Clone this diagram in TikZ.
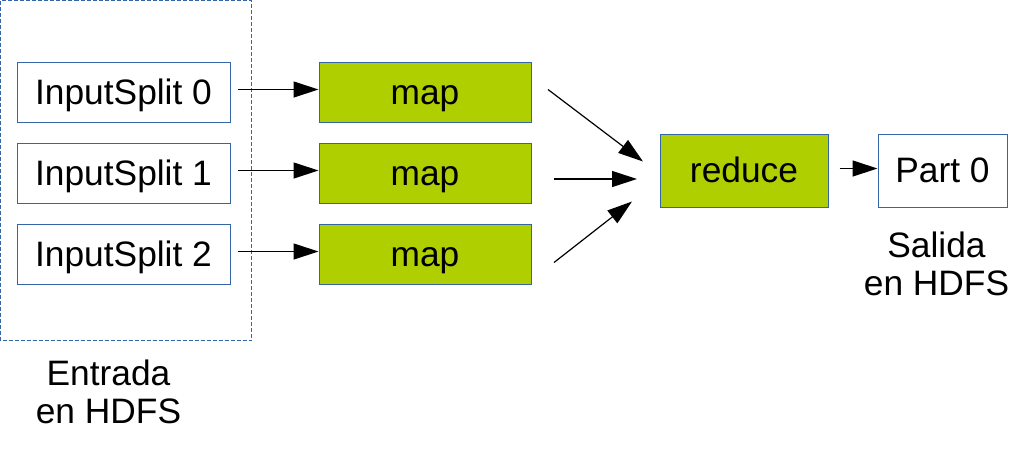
\documentclass[tikz,border=0pt]{standalone}
\usepackage{fontspec}
\setmainfont{Liberation Sans}
\usetikzlibrary{arrows.meta}
\definecolor{boxline}{RGB}{52,101,164}
\definecolor{boxgreen}{RGB}{176,207,0}
\begin{document}
\begin{tikzpicture}[x=0.75pt,y=-0.75pt,
font=\fontsize{26.5}{28}\selectfont,
box/.style={draw=boxline,line width=0.75pt,inner sep=0pt,minimum height=45.5pt,text height=18.5pt,text depth=0pt},
split/.style={box,fill=white,minimum width=159.75pt},
mapbox/.style={box,fill=boxgreen,minimum width=159pt},
flow/.style={-{Triangle[length=18.75pt,width=12pt]},line width=0.9pt},
caption/.style={align=center,inner sep=0pt}]
\useasboundingbox (0,0) rectangle (1024,451);
\draw[boxline,line width=0.75pt,dash pattern=on 3pt off 1.5pt] (0.5,0.5) rectangle (251.5,340.5);
\foreach \i/\y in {0/92.5,1/173.5,2/254.5}{
    \node[split] (split\i) at (123.5,\y) {InputSplit \i};
    \node[mapbox] (map\i) at (425,\y) {map};
    \draw[flow,shorten <=5.25pt] ([yshift=2.25pt]split\i.east) -- ([yshift=2.25pt]map\i.west);
}
\node[box,fill=boxgreen,minimum width=126pt,minimum height=54.75pt] (reduce) at (744,170.5) {reduce};
\node[box,fill=white,minimum width=96.75pt,minimum height=54.75pt] (part) at (942.5,170.5) {Part 0};
\coordinate (out0) at (548,89.5);
\coordinate (out1) at (554,179);
\coordinate (out2) at (554,262.5);
\coordinate (in0) at (643,161.5);
\coordinate (in1) at (637,179);
\coordinate (in2) at (632,201.5);
\foreach \i in {0,1,2}
    \draw[flow] (out\i) -- (in\i);
\draw[flow,shorten <=8.25pt] ([yshift=1.5pt]reduce.east) -- ([yshift=1.5pt]part.west);
\node[caption] (entrada) at (108.5,392) {Entrada\\en HDFS};
\node[caption] (salida) at (936.5,264) {Salida\\en HDFS};
\end{tikzpicture}
\end{document}
